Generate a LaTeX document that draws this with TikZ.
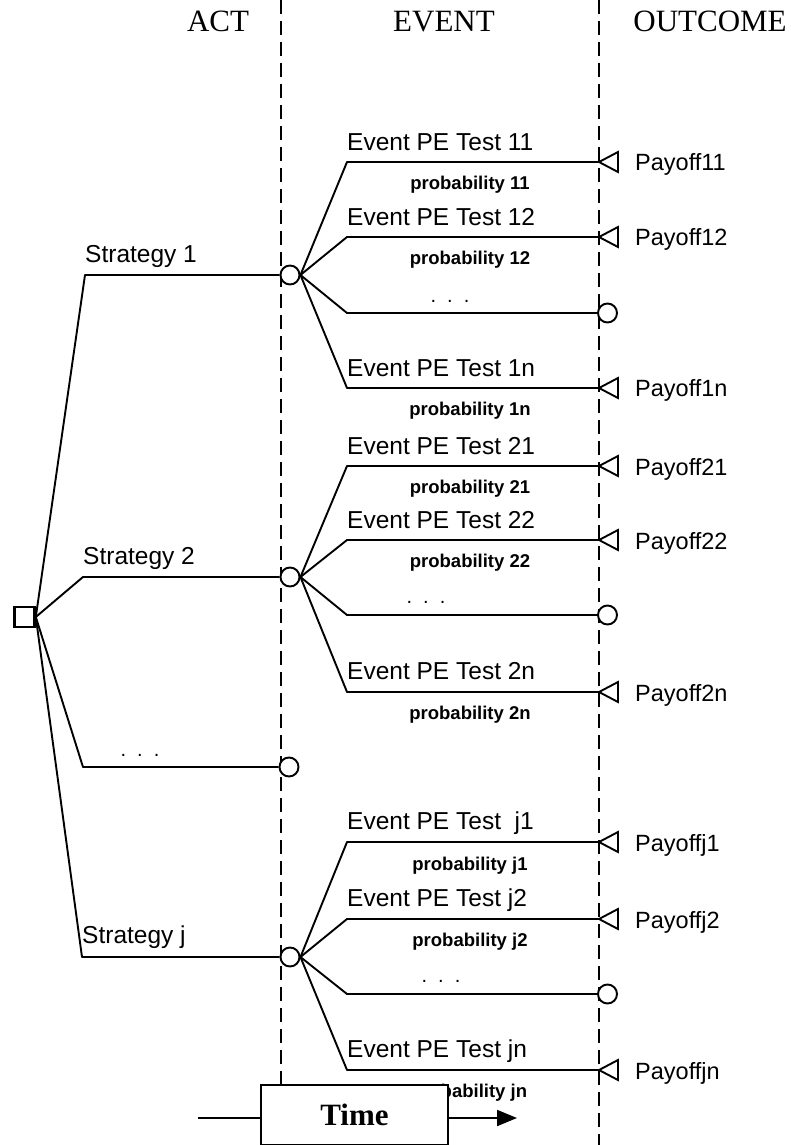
\documentclass[tikz,border=0pt]{standalone}
\usepackage{fontspec}
\setmainfont{Liberation Serif}
\newfontfamily\arialfont{Liberation Sans}
\usetikzlibrary{arrows.meta}
\begin{document}
\begin{tikzpicture}[x=1pt,y=-1pt,
  conn/.style={line width=1.9pt, line join=round},
  dashline/.style={line width=2pt, dash pattern=on 14pt off 7pt},
  chance/.style={circle, draw, line width=1.9pt, minimum size=19pt, inner sep=0pt, fill=white},
  decision/.style={rectangle, draw, line width=2.6pt, minimum size=20pt, inner sep=0pt, fill=white},
  payofftri/.style={line width=1.9pt, fill=white, line join=miter},
  evtlbl/.style={font=\arialfont\fontsize{24.5}{28}\selectfont, anchor=base west, inner sep=0pt},
  strlbl/.style={font=\arialfont\fontsize{24.5}{28}\selectfont, anchor=base west, inner sep=0pt},
  problbl/.style={font=\arialfont\bfseries\fontsize{18.5}{22}\selectfont, anchor=base, inner sep=0pt},
  paylbl/.style={font=\arialfont\fontsize{23.5}{28}\selectfont, anchor=base west, inner sep=0pt},
  dotlbl/.style={font=\arialfont\fontsize{20}{24}\selectfont, anchor=base, inner sep=0pt},
  headlbl/.style={font=\fontsize{31}{34}\selectfont, anchor=base, inner sep=0pt},
  timebox/.style={draw, line width=1.9pt, fill=white, minimum width=187pt, minimum height=60pt, inner sep=0pt,
    font=\bfseries\fontsize{31}{34}\selectfont}
]
\useasboundingbox (0,0) rectangle (791,1145);

% dashed separators
\coordinate (da1) at (281,0); \coordinate (da2) at (281,1145);
\coordinate (db1) at (599,0); \coordinate (db2) at (599,1145);
\draw[dashline] (da1) -- (da2);
\draw[dashline] (db1) -- (db2);

% headers
\node[headlbl] (hact) at (218,32) {ACT};
\node[headlbl] (hevent) at (444,32) {EVENT};
\node[headlbl] (houtcome) at (710,32) {OUTCOME};

% decision node
\node[decision] (d) at (24.5,617) {};

% chance nodes
\node[chance] (c1) at (290,275) {};
\node[chance] (c2) at (290,577) {};
\node[chance] (c3) at (289,767) {};
\node[chance] (cj) at (290,957) {};

% strategy branches
\coordinate (s1) at (85,275);
\coordinate (s2) at (83,577);
\coordinate (s3) at (83,767);
\coordinate (sj) at (82,957);
\draw[conn] (d.east) -- (s1) -- (c1.west);
\draw[conn] (d.east) -- (s2) -- (c2.west);
\draw[conn] (d.east) -- (s3) -- (c3.west);
\draw[conn] (d.east) -- (sj) -- (cj.west);
\node[strlbl] (ls1) at (85,262) {Strategy 1};
\node[strlbl] (ls2) at (83,564) {Strategy 2};
\node[dotlbl] (ls3) at (140,756) {.\hspace{11pt}.\hspace{11pt}.};
\node[strlbl] (lsj) at (82,943) {Strategy j};

% ===== group 1 =====
\coordinate (e11) at (347,162); \coordinate (t11) at (599,162);
\coordinate (e12) at (347,237); \coordinate (t12) at (599,237);
\coordinate (e13) at (347,313); \node[chance] (o13) at (607.5,313) {};
\coordinate (e1n) at (347,388); \coordinate (t1n) at (599,388);
\draw[conn] (c1.east) -- (e11) -- (t11);
\draw[conn] (c1.east) -- (e12) -- (t12);
\draw[conn] (c1.east) -- (e13) -- (o13.west);
\draw[conn] (c1.east) -- (e1n) -- (t1n);
\draw[payofftri] (t11) -- ++(19,-10) -- ++(0,20) -- cycle;
\draw[payofftri] (t12) -- ++(19,-10) -- ++(0,20) -- cycle;
\draw[payofftri] (t1n) -- ++(19,-10) -- ++(0,20) -- cycle;
\node[evtlbl] (l11) at (347,150) {Event PE Test 11};
\node[problbl] (p11) at (470,189) {probability 11};
\node[evtlbl] (l12) at (347,225) {Event PE Test 12};
\node[problbl] (p12) at (470,264) {probability 12};
\node[dotlbl] (l13) at (450,302) {.\hspace{11pt}.\hspace{11pt}.};
\node[evtlbl] (l1n) at (347,376) {Event PE Test 1n};
\node[problbl] (p1n) at (470,415) {probability 1n};
\node[paylbl] (y11) at (635,170) {Payoff11};
\node[paylbl] (y12) at (635,245) {Payoff12};
\node[paylbl] (y1n) at (635,396) {Payoff1n};

% ===== group 2 =====
\coordinate (e21) at (347,466); \coordinate (t21) at (599,466);
\coordinate (e22) at (347,540); \coordinate (t22) at (599,540);
\coordinate (e23) at (347,615); \node[chance] (o23) at (607.5,615) {};
\coordinate (e2n) at (347,692); \coordinate (t2n) at (599,692);
\draw[conn] (c2.east) -- (e21) -- (t21);
\draw[conn] (c2.east) -- (e22) -- (t22);
\draw[conn] (c2.east) -- (e23) -- (o23.west);
\draw[conn] (c2.east) -- (e2n) -- (t2n);
\draw[payofftri] (t21) -- ++(19,-10) -- ++(0,20) -- cycle;
\draw[payofftri] (t22) -- ++(19,-10) -- ++(0,20) -- cycle;
\draw[payofftri] (t2n) -- ++(19,-10) -- ++(0,20) -- cycle;
\node[evtlbl] (l21) at (347,454) {Event PE Test 21};
\node[problbl] (p21) at (470,493) {probability 21};
\node[evtlbl] (l22) at (347,528) {Event PE Test 22};
\node[problbl] (p22) at (470,567) {probability 22};
\node[dotlbl] (l23) at (426,603) {.\hspace{11pt}.\hspace{11pt}.};
\node[evtlbl] (l2n) at (347,679) {Event PE Test 2n};
\node[problbl] (p2n) at (470,719) {probability 2n};
\node[paylbl] (y21) at (635,475) {Payoff21};
\node[paylbl] (y22) at (635,549) {Payoff22};
\node[paylbl] (y2n) at (635,701) {Payoff2n};

% ===== group j =====
\coordinate (ej1) at (347,842); \coordinate (tj1) at (599,842);
\coordinate (ej2) at (347,919); \coordinate (tj2) at (599,919);
\coordinate (ej3) at (347,994); \node[chance] (oj3) at (607.5,994) {};
\coordinate (ejn) at (347,1070); \coordinate (tjn) at (599,1070);
\draw[conn] (cj.east) -- (ej1) -- (tj1);
\draw[conn] (cj.east) -- (ej2) -- (tj2);
\draw[conn] (cj.east) -- (ej3) -- (oj3.west);
\draw[conn] (cj.east) -- (ejn) -- (tjn);
\draw[payofftri] (tj1) -- ++(19,-10) -- ++(0,20) -- cycle;
\draw[payofftri] (tj2) -- ++(19,-10) -- ++(0,20) -- cycle;
\draw[payofftri] (tjn) -- ++(19,-10) -- ++(0,20) -- cycle;
\node[evtlbl] (lj1) at (347,829) {Event PE Test\ \ j1};
\node[problbl] (pj1) at (470,870) {probability j1};
\node[evtlbl] (lj2) at (347,906) {Event PE Test j2};
\node[problbl] (pj2) at (470,946) {probability j2};
\node[dotlbl] (lj3) at (441,982) {.\hspace{11pt}.\hspace{11pt}.};
\node[evtlbl] (ljn) at (347,1057) {Event PE Test jn};
\node[problbl] (pjn) at (469,1097) {probability jn};
\node[paylbl] (yj1) at (635,851) {Payoffj1};
\node[paylbl] (yj2) at (635,928) {Payoffj2};
\node[paylbl] (yjn) at (635,1079) {Payoffjn};

% time box
\node[timebox] (time) at (354.5,1115) {Time};
\coordinate (tl) at (198,1118);
\coordinate (tr) at (517,1118);
\draw[conn] (tl) -- (tl -| time.west);
\draw[conn, -{Triangle[length=20pt,width=16pt]}] (tr -| time.east) -- (tr);
\end{tikzpicture}
\end{document}
